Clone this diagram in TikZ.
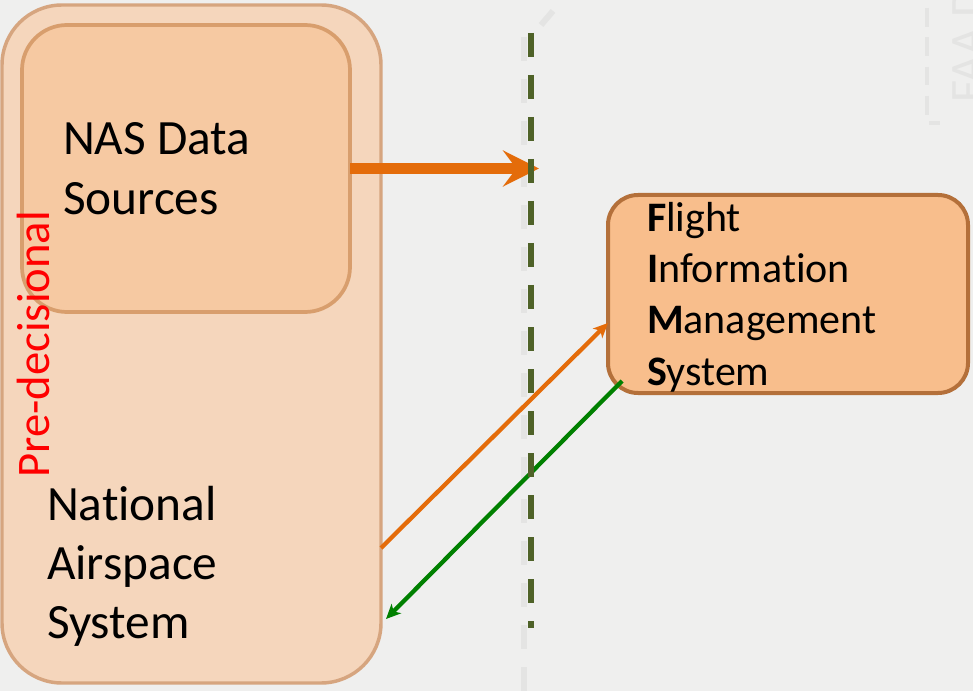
\documentclass[tikz,border=0pt]{standalone}
\usepackage{fontspec}
\setmainfont{Carlito}[Ligatures={NoCommon}]
\usetikzlibrary{arrows.meta}
\definecolor{bg}{HTML}{EFEFEE}
\definecolor{outerfill}{HTML}{F5D6BC}
\definecolor{outerline}{HTML}{D6A57F}
\definecolor{innerfill}{HTML}{F6C9A2}
\definecolor{innerline}{HTML}{D89E6D}
\definecolor{fimsfill}{HTML}{F8BE8C}
\definecolor{fimsline}{HTML}{B4703A}
\definecolor{arrorange}{HTML}{E46C0A}
\definecolor{arrgreen}{HTML}{008000}
\definecolor{dashgreen}{HTML}{4F6228}
\definecolor{faint}{HTML}{E4E4E3}
\tikzset{
  boxbase/.style={rectangle, inner sep=0pt, outer sep=0pt},
  outerbox/.style={boxbase, fill=outerfill, draw=outerline, line width=2.6pt, rounded corners=45pt},
  innerbox/.style={boxbase, fill=innerfill, draw=innerline, line width=2.8pt, rounded corners=33.75pt},
  fimsbox/.style={boxbase, fill=fimsfill, draw=fimsline, line width=3pt, rounded corners=22.5pt},
  label/.style={inner sep=0pt, outer sep=0pt, anchor=base west, align=left, text=black},
  boundary/.style={draw=dashgreen, line width=4.5pt, dash pattern=on 18pt off 13.5pt},
  faintline/.style={draw=faint, line width=4pt, dash pattern=on 18pt off 13.5pt},
  thinarrow/.style={line width=3.2pt, -{Stealth[length=11pt,width=10pt,inset=3pt]}},
}
\begin{document}
\begin{tikzpicture}[x=0.75pt,y=-0.75pt]
  \fill[bg] (0,0) rectangle (973,691);
  \useasboundingbox (0,0) rectangle (973,691);
  \clip (0,0) rectangle (973,691);

  % faint background marks
  \draw[faintline] (524,37) -- (524,700);
  \draw[draw=faint, line width=4.5pt] (541,25) -- (553,11);
  \draw[draw=faint, line width=2.5pt, dash pattern=on 14pt off 8pt] (927,8) -- (927,123) -- (940,123);
  \node[anchor=base west, rotate=90, inner sep=0pt, text=faint, font=\fontsize{36}{40}\selectfont] (faa) at (983,103) {FAA D};

  % boxes
  \node[outerbox, minimum width=284.25pt, minimum height=508.5pt] (nas) at (191.5,344) {};
  \node[innerbox, minimum width=246pt, minimum height=215.25pt] (src) at (186,168.5) {};
  \node[fimsbox, minimum width=270pt, minimum height=148.5pt] (fims) at (788,294) {};

  % texts
  \node[label, font=\fontsize{37}{45}\selectfont] (srctext) at (63,215) {NAS Data\\Sources};
  \node[label, font=\fontsize{37}{44.25}\selectfont] (nastext) at (47,638) {National\\Airspace\\System};
  \node[label, font=\fontsize{31.5}{38.5}\selectfont] (fimstext) at (647,385)
    {\textbf{F}light\\\textbf{I}nformation\\\textbf{M}anagement\\\textbf{S}ystem};
  \node[anchor=base west, rotate=90, inner sep=0pt, text=red, font=\fontsize{35}{40}\selectfont] (pre) at (49,478) {Pre-decisional};

  % connectors
  \coordinate (cross) at (539,168.5);
  \draw[draw=arrorange, line width=8.5pt, -{Stealth[length=27pt,width=27pt,inset=10pt]}] (src.east) -- (cross);
  \draw[draw=arrorange, thinarrow] ([yshift=-153pt]nas.east) -- ([yshift=-21.75pt]fims.west);
  \draw[draw=arrgreen, thinarrow] ([shift={(14,-12)}]fims.south west) -- ([shift={(5,275)}]nas.east);

  % boundary
  \coordinate (btop) at (531,33);
  \coordinate (bbot) at (531,628);
  \draw[boundary] (btop) -- (bbot);
\end{tikzpicture}
\end{document}
